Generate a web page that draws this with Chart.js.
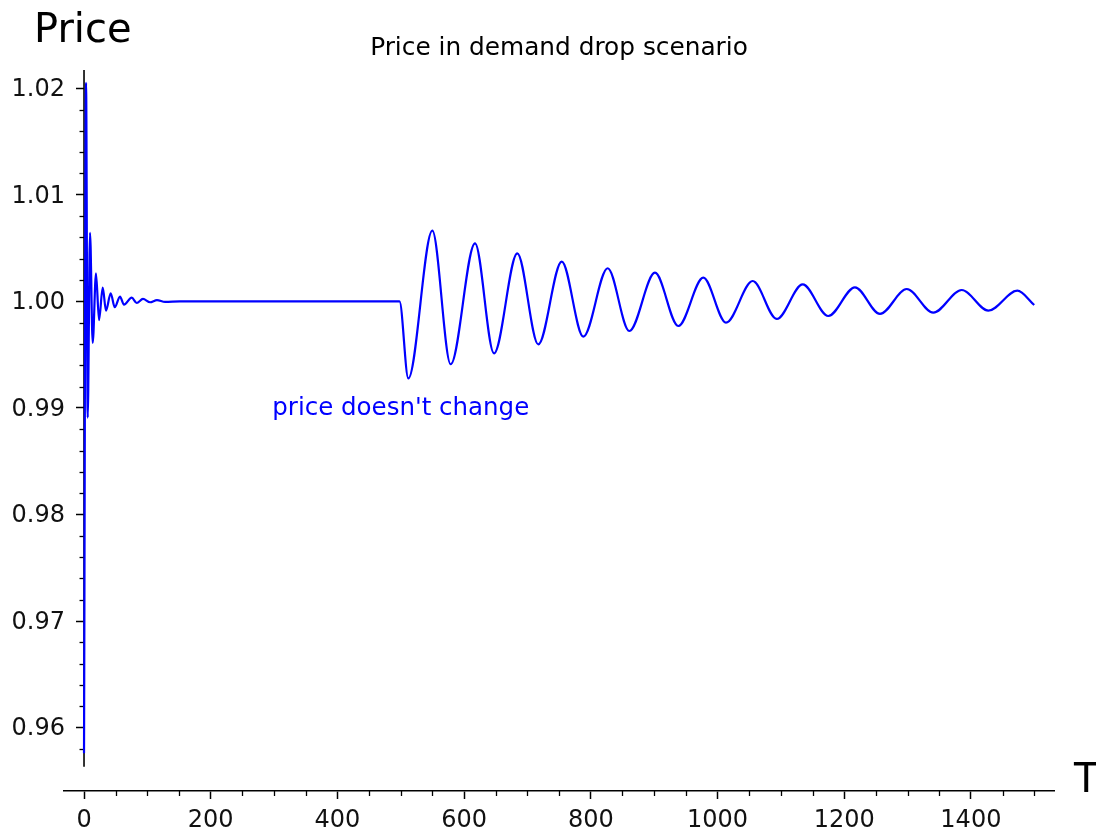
<!DOCTYPE html>
<html>
<head>
<meta charset="utf-8">
<script src="https://cdn.jsdelivr.net/npm/chart.js@4.4.1/dist/chart.umd.min.js"></script>
<style>
  html, body { margin: 0; padding: 0; background: #fff; }
  #wrap { width: 1096px; height: 836px; }
</style>
</head>
<body>
<div id="wrap"><canvas id="c" width="1096" height="836"></canvas></div>
<script>
// Time steps and price: settling transient, flat stretch, then the demand-drop response
const times = [
  0, 3.2, 5.8, 9.5, 13.7, 18.9, 23.7, 29.5, 34.7, 42.1, 48.5, 56.8, 63.1, 75.3, 83.2, 93.1, 104.2, 115.2, 127.9, 151.5,
  498, 511.9, 549.8, 578.8, 617.2, 647.2, 684.0, 717.1, 754.1, 788.2, 826.7, 860.8, 901.3, 938.1, 977.6, 1013.4,
  1055.6, 1093.5, 1134.5, 1174.9, 1217.0, 1256.5, 1298.7, 1340.6, 1385.5, 1427.5, 1473.3, 1500
];
const prices = [
  0.9576, 1.0205, 0.9891, 1.00642, 0.99610, 1.00264, 0.99825, 1.00129, 0.99913, 1.00076, 0.99945, 1.00044, 0.99969,
  1.00035, 0.99985, 1.00023, 0.99992, 1.00012, 0.99995, 1.0,
  1.0, 0.99278, 1.00663, 0.99410, 1.00545, 0.99513, 1.00451, 0.99597, 1.00373, 0.99669, 1.00311, 0.99722, 1.00269,
  0.99769, 1.00222, 0.99800, 1.00191, 0.99835, 1.00160, 0.99863, 1.00132, 0.99882, 1.00116, 0.99894, 1.00107,
  0.99913, 1.00100, 0.99966
];

// Tick labels
const xTicks = [0, 200, 400, 600, 800, 1000, 1200, 1400];
const yTicks = [0.96, 0.97, 0.98, 0.99, 1.00, 1.01, 1.02];

// Axis ranges
const xRange = [-31.6, 1531.2];
const yRange = [0.95406, 1.02171];
const yAxisSpan = [0.95634, 1.02171];

// Text
const titleText = 'Price in demand drop scenario';
const xAxisName = 'T';
const yAxisName = 'Price';
const noteText = "price doesn't change";
const notePos = [500, 0.99];

const FONT = '"DejaVu Sans", "Liberation Sans", sans-serif';
const BLUE = '#0000ff';
const INK = '#000000';
const LABEL = '#111111';

const axisDecor = {
  id: 'axisDecor',
  beforeDatasetsDraw(chart) {
    const { ctx, scales: { x, y } } = chart;
    const x0 = x.getPixelForValue(0);
    ctx.save();
    ctx.strokeStyle = INK;
    // vertical axis through x = 0
    ctx.lineWidth = 1.6;
    ctx.beginPath();
    ctx.moveTo(x0, y.getPixelForValue(yAxisSpan[0]));
    ctx.lineTo(x0, y.getPixelForValue(yAxisSpan[1]));
    ctx.stroke();
    // minor ticks on y (every 0.002)
    ctx.lineWidth = 1.3;
    for (let m = 479; m <= 510; m++) {
      if (m % 5 === 0) continue;
      const py = Math.round(y.getPixelForValue(m / 500)) + 0.5;
      ctx.beginPath();
      ctx.moveTo(x0, py);
      ctx.lineTo(x0 - 4.5, py);
      ctx.stroke();
    }
    // minor ticks on x (every 50)
    const base = chart.chartArea.bottom;
    for (let v = 50; v <= 1500; v += 50) {
      if (v % 200 === 0) continue;
      const px = Math.round(x.getPixelForValue(v)) + 0.5;
      ctx.beginPath();
      ctx.moveTo(px, base);
      ctx.lineTo(px, base + 5);
      ctx.stroke();
    }
    // y tick labels, right-aligned left of the tick marks
    ctx.fillStyle = LABEL;
    ctx.font = '24px ' + FONT;
    ctx.textAlign = 'right';
    ctx.textBaseline = 'middle';
    yTicks.forEach(v => {
      ctx.fillText(v.toFixed(2), x0 - 19, y.getPixelForValue(v) + 1.5);
    });
    ctx.restore();
  },
  afterDraw(chart) {
    const { ctx, chartArea, scales: { x, y } } = chart;
    ctx.save();
    ctx.fillStyle = INK;
    ctx.textBaseline = 'alphabetic';
    // title
    ctx.font = '24.8px ' + FONT;
    ctx.textAlign = 'center';
    ctx.fillText(titleText, (chartArea.left + chartArea.right) / 2, 55);
    // axis names
    ctx.font = '40px ' + FONT;
    ctx.textAlign = 'left';
    ctx.fillText(yAxisName, 34, 42);
    ctx.fillText(xAxisName, 1074, 792);
    // annotation
    ctx.fillStyle = BLUE;
    ctx.font = '24.5px ' + FONT;
    ctx.textAlign = 'center';
    ctx.fillText(noteText, x.getPixelForValue(notePos[0]), y.getPixelForValue(notePos[1]) + 7);
    ctx.restore();
  }
};

new Chart(document.getElementById('c'), {
  type: 'line',
  data: {
    datasets: [{
      data: times.map((t, i) => ({ x: t, y: prices[i] })),
      borderColor: BLUE,
      borderWidth: 2.2,
      pointRadius: 0,
      fill: false,
      cubicInterpolationMode: 'monotone'
    }]
  },
  options: {
    responsive: false,
    animation: false,
    layout: { padding: { left: 64, right: 42, top: 70, bottom: 0 } },
    plugins: { legend: { display: false }, tooltip: { enabled: false }, title: { display: false } },
    scales: {
      x: {
        type: 'linear',
        position: 'bottom',
        min: xRange[0],
        max: xRange[1],
        afterBuildTicks: (s) => { s.ticks = xTicks.map(v => ({ value: v })); },
        afterFit: (s) => { s.height = 45; },
        border: { display: true, color: INK, width: 1.6 },
        grid: { display: true, drawOnChartArea: false, drawTicks: true, tickLength: 8, tickColor: INK, tickWidth: 1.5 },
        ticks: { color: LABEL, font: { family: FONT, size: 24 }, padding: 7, maxRotation: 0, autoSkip: false,
                 callback: (v) => String(v) }
      },
      y: {
        type: 'linear',
        position: { x: 0 },
        min: yRange[0],
        max: yRange[1],
        afterBuildTicks: (s) => { s.ticks = yTicks.map(v => ({ value: v })); },
        border: { display: false },
        grid: { display: true, drawOnChartArea: false, drawTicks: true, tickLength: 8, tickColor: INK, tickWidth: 1.5 },
        ticks: { display: false }
      }
    }
  },
  plugins: [axisDecor]
});
</script>
</body>
</html>
